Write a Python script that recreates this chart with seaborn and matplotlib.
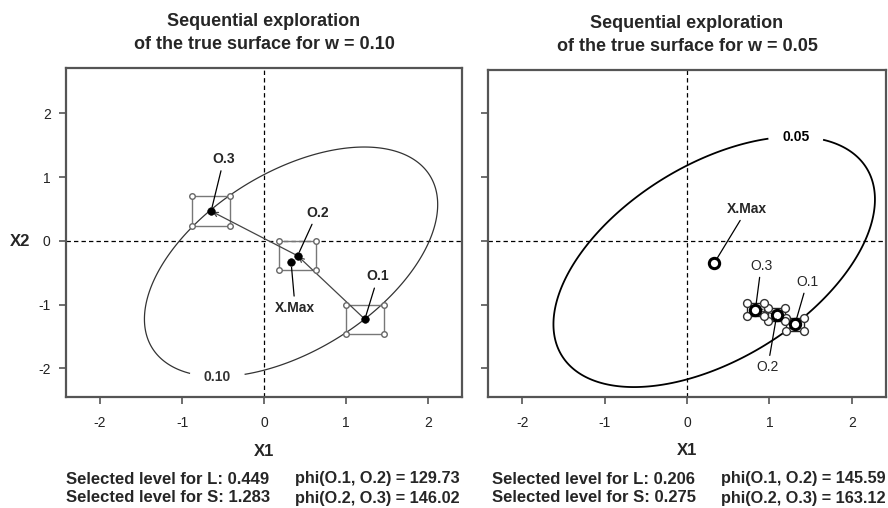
import numpy as np
import pandas as pd
import matplotlib
matplotlib.use("Agg")
import matplotlib.pyplot as plt
import seaborn as sns

# true surface: a gaussian bump, parameters
surf_peak = 3.85
surf_center = [0.33, -0.33]
surf_cov = [[0.438, 0.220], [0.220, 0.444]]

w_levels = [0.10, 0.05]
w_texts = ["0.10", "0.05"]
contour_label_pos = [(-0.57, -2.12), (1.32, 1.55)]

names = ["O.1", "O.2", "O.3"]

# panel 1 (w = 0.10)
p1_x = [1.23, 0.41, -0.645]
p1_y = [-1.23, -0.235, 0.465]
p1_half = 0.23
p1_lab_x = [1.39, 0.65, -0.49]
p1_lab_y = [-0.56, 0.44, 1.28]
p1_xmax = [0.33, -0.33]
p1_xmax_lab = [0.38, -1.05]

# panel 2 (w = 0.05)
p2_x = [1.31, 1.09, 0.83]
p2_y = [-1.31, -1.16, -1.08]
p2_half = 0.105
p2_lab_x = [1.46, 0.98, 0.90]
p2_lab_y = [-0.64, -1.98, -0.39]
p2_xmax = [0.33, -0.35]
p2_xmax_lab = [0.73, 0.50]

sel_L = ["0.449", "0.206"]
sel_S = ["1.283", "0.275"]
phi_12 = ["129.73", "145.59"]
phi_23 = ["146.02", "163.12"]

sns.set_theme(style="white")
plt.rcParams['font.family'] = ['Liberation Sans', 'DejaVu Sans']
plt.rcParams['axes.unicode_minus'] = False

fig = plt.figure(figsize=(8.88, 5.08), dpi=100)
ax1 = fig.add_axes([66/888, 1-397/508, 396/888, 329/508])
ax2 = fig.add_axes([488/888, 1-397/508, 398/888, 327/508])

frame_col = "#555555"


def surface(X, Y):
    inv = np.linalg.inv(np.array(surf_cov))
    dx = X - surf_center[0]
    dy = Y - surf_center[1]
    q = inv[0, 0]*dx**2 + 2*inv[0, 1]*dx*dy + inv[1, 1]*dy**2
    return surf_peak*np.exp(-0.5*q)


def draw_panel(ax, k, xs, ys, half, lab_x, lab_y, xmax, xmax_lab, big):
    ax.set_xlim(-2.415, 2.415)
    ax.set_ylim(-2.45, 2.71 if k == 0 else 2.68)

    gx, gy = np.meshgrid(np.linspace(-2.5, 2.5, 400), np.linspace(-2.6, 2.8, 400))
    cs = ax.contour(gx, gy, surface(gx, gy), levels=[w_levels[k]],
                    colors="#333333" if k == 0 else "black",
                    linewidths=0.9 if k == 0 else 1.3)
    lbls = ax.clabel(cs, fmt={w_levels[k]: w_texts[k]}, manual=[contour_label_pos[k]],
                     inline=True, inline_spacing=14, fontsize=10)
    for t in lbls:
        t.set_fontweight("bold")
        t.set_rotation(0)

    ax.axhline(0, color="black", lw=0.9, dashes=(3.5, 2.5), zorder=1)
    ax.axvline(0, color="black", lw=0.9, dashes=(3.5, 2.5), zorder=1)

    # boxes around each centre
    corners = []
    for cx, cy in zip(xs, ys):
        bx = [cx-half, cx+half, cx+half, cx-half, cx-half]
        by = [cy+half, cy+half, cy-half, cy-half, cy+half]
        ax.plot(bx, by, color="#777777" if not big else "#222222", lw=1.0, zorder=2)
        corners += list(zip(bx[:4], by[:4]))
    cdf = pd.DataFrame(corners, columns=["x", "y"])
    sns.scatterplot(data=cdf, x="x", y="y", ax=ax, marker="o",
                    s=32 if big else 16, facecolor="white",
                    edgecolor="#333333" if big else "#666666",
                    linewidth=1.0, zorder=4)

    # path between the centres
    for i in range(len(xs)-1):
        ax.annotate("", xy=(xs[i+1], ys[i+1]), xytext=(xs[i], ys[i]),
                    arrowprops=dict(arrowstyle="->", lw=0.9, color="#444444",
                                    shrinkA=0, shrinkB=1, mutation_scale=8),
                    zorder=3)

    pts = pd.DataFrame({"x": xs + [xmax[0]], "y": ys + [xmax[1]]})
    if big:
        sns.scatterplot(data=pts, x="x", y="y", ax=ax, s=55, facecolor="white",
                        edgecolor="black", linewidth=2.2, zorder=5)
    else:
        sns.scatterplot(data=pts, x="x", y="y", ax=ax, s=30, color="black",
                        edgecolor="black", zorder=5)

    for name, px, py, lx, ly in zip(names, xs, ys, lab_x, lab_y):
        ax.annotate(name, xy=(px, py), xytext=(lx, ly), ha="center", va="center",
                    fontsize=10, fontweight="bold" if not big else "normal",
                    arrowprops=dict(arrowstyle="-", lw=0.9, color="black",
                                    shrinkA=1, shrinkB=3), zorder=6)
    ax.annotate("X.Max", xy=tuple(xmax), xytext=tuple(xmax_lab), ha="center", va="center",
                fontsize=10, fontweight="bold",
                arrowprops=dict(arrowstyle="-", lw=0.9, color="black",
                                shrinkA=1, shrinkB=4), zorder=6)

    ax.set_xticks([-2, -1, 0, 1, 2])
    ax.set_yticks([-2, -1, 0, 1, 2])
    ax.tick_params(direction="out", length=5, width=1.2, color=frame_col,
                   labelsize=10, labelcolor="#222222", pad=6,
                   bottom=True, left=True)
    ax.tick_params(axis="x", pad=9)
    for sp in ax.spines.values():
        sp.set_color(frame_col)
        sp.set_linewidth(1.6)

    ax.set_xlabel("X1", fontsize=12, fontweight="bold")
    ax.xaxis.set_label_coords(0.5, -0.142)
    ax.set_title("Sequential exploration\nof the true surface for w = " + w_texts[k],
                 fontsize=13, fontweight="bold", linespacing=1.45, pad=14)


draw_panel(ax1, 0, p1_x, p1_y, p1_half, p1_lab_x, p1_lab_y, p1_xmax, p1_xmax_lab, False)
draw_panel(ax2, 1, p2_x, p2_y, p2_half, p2_lab_x, p2_lab_y, p2_xmax, p2_xmax_lab, True)

ax1.set_ylabel("X2", fontsize=12, fontweight="bold", rotation=0, ha="center", va="center")
ax1.yaxis.set_label_coords(-0.115, (397-241)/329)
ax2.set_ylabel("")
ax2.set_yticklabels([])

# footnotes under each panel
col_x = [[66, 295], [492, 721]]
for k in range(2):
    fig.text(col_x[k][0]/888, 1-479/508, "Selected level for L: " + sel_L[k],
             fontsize=12, fontweight="bold", va="center", ha="left")
    fig.text(col_x[k][0]/888, 1-498/508, "Selected level for S: " + sel_S[k],
             fontsize=12, fontweight="bold", va="center", ha="left")
    fig.text(col_x[k][1]/888, 1-479/508, "phi(O.1, O.2) = " + phi_12[k],
             fontsize=11.7, fontweight="bold", va="center", ha="left")
    fig.text(col_x[k][1]/888, 1-498/508, "phi(O.2, O.3) = " + phi_23[k],
             fontsize=11.7, fontweight="bold", va="center", ha="left")

fig.savefig("out.png", dpi=100)
